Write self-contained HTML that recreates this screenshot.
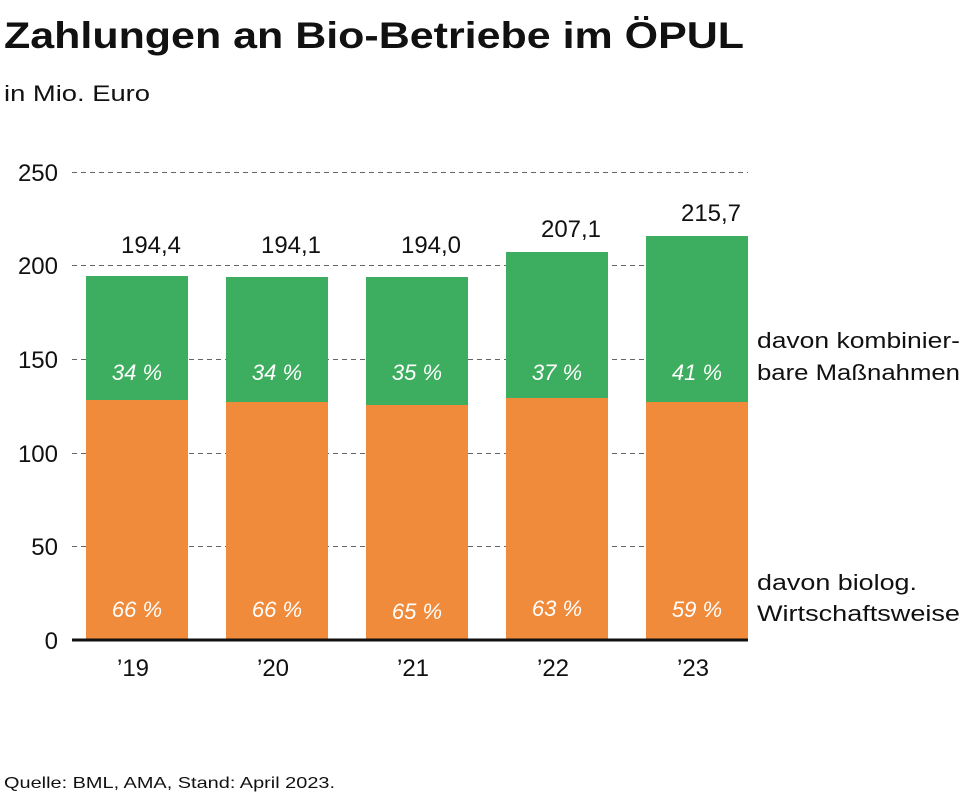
<!DOCTYPE html>
<html><head><meta charset="utf-8"><style>
body{margin:0;background:#fff;}
svg{display:block;font-family:"Liberation Sans",sans-serif;}
</style></head><body>
<svg width="967" height="796" viewBox="0 0 967 796">
<text x="4" y="48" font-size="37" font-weight="bold" fill="#111" textLength="740" lengthAdjust="spacingAndGlyphs">Zahlungen an Bio-Betriebe im ÖPUL</text>
<text x="4" y="101" font-size="22" fill="#111" textLength="146" lengthAdjust="spacingAndGlyphs">in Mio. Euro</text>
<g stroke="#666" stroke-width="1" stroke-dasharray="5,4">
<line x1="72" y1="172.5" x2="748" y2="172.5"/>
<line x1="72" y1="265.5" x2="748" y2="265.5"/>
<line x1="72" y1="359.5" x2="748" y2="359.5"/>
<line x1="72" y1="453.5" x2="748" y2="453.5"/>
<line x1="72" y1="546.5" x2="748" y2="546.5"/>
</g>
<g font-size="24" fill="#111" text-anchor="end">
<text x="58" y="181">250</text><text x="58" y="274">200</text><text x="58" y="368">150</text>
<text x="58" y="462">100</text><text x="58" y="555">50</text><text x="58" y="649">0</text>
</g>
<g fill="#3dad5f">
<rect x="86" y="276" width="102" height="124"/>
<rect x="226" y="277" width="102" height="125"/>
<rect x="366" y="277" width="102" height="128"/>
<rect x="506" y="252" width="102" height="146"/>
<rect x="646" y="236" width="102" height="166"/>
</g>
<g fill="#f18b3c">
<rect x="86" y="400" width="102" height="240"/>
<rect x="226" y="402" width="102" height="238"/>
<rect x="366" y="405" width="102" height="235"/>
<rect x="506" y="398" width="102" height="242"/>
<rect x="646" y="402" width="102" height="238"/>
</g>
<line x1="72" y1="640" x2="748" y2="640" stroke="#111" stroke-width="3"/>
<g font-size="24" fill="#111" text-anchor="middle">
<text x="151" y="253">194,4</text><text x="291" y="253">194,1</text><text x="431" y="253">194,0</text>
<text x="571" y="237">207,1</text><text x="711" y="221">215,7</text>
</g>
<g font-size="22" fill="#fff" font-style="italic" text-anchor="middle">
<text x="137" y="380">34 %</text><text x="277" y="380">34 %</text><text x="417" y="380">35 %</text>
<text x="557" y="380">37 %</text><text x="697" y="380">41 %</text>
<text x="137" y="617">66 %</text><text x="277" y="617">66 %</text><text x="417" y="619">65 %</text>
<text x="557" y="616">63 %</text><text x="697" y="617">59 %</text>
</g>
<g font-size="24" fill="#111" text-anchor="middle">
<text x="133" y="676">’19</text><text x="273" y="676">’20</text><text x="413" y="676">’21</text>
<text x="553" y="676">’22</text><text x="693" y="676">’23</text>
</g>
<g font-size="22" fill="#111">
<text x="757" y="348" textLength="203" lengthAdjust="spacingAndGlyphs">davon kombinier-</text>
<text x="757" y="380" textLength="203" lengthAdjust="spacingAndGlyphs">bare Maßnahmen</text>
<text x="757" y="590" textLength="160" lengthAdjust="spacingAndGlyphs">davon biolog.</text>
<text x="757" y="621" textLength="203" lengthAdjust="spacingAndGlyphs">Wirtschaftsweise</text>
</g>
<text x="4" y="788" font-size="16" fill="#111" textLength="331" lengthAdjust="spacingAndGlyphs">Quelle: BML, AMA, Stand: April 2023.</text>
</svg>
</body></html>
